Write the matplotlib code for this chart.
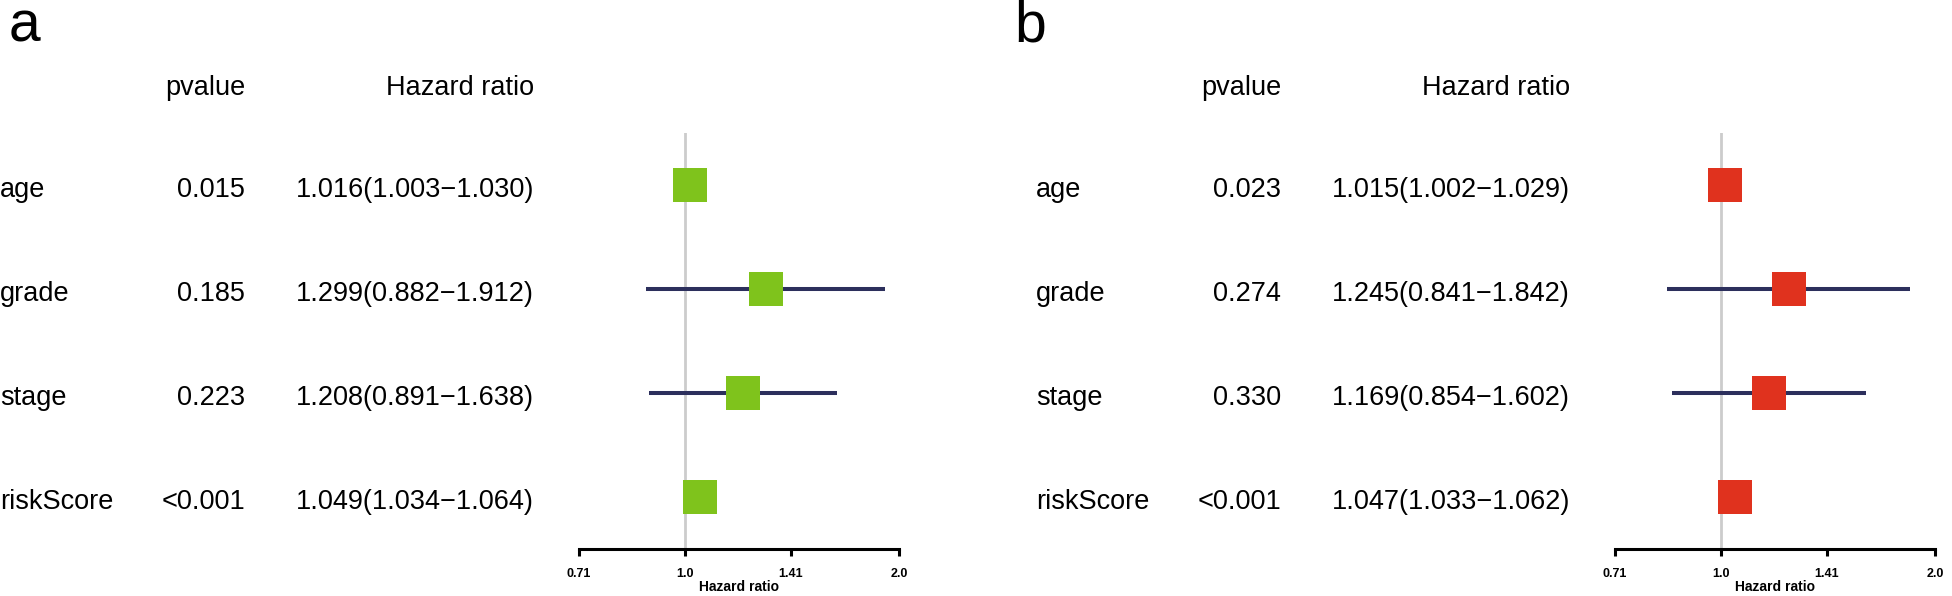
"""Two multivariate Cox forest plots (a, b) side by side."""
import matplotlib
matplotlib.use("Agg")
import matplotlib.pyplot as plt
from matplotlib.transforms import blended_transform_factory

plt.rcParams["font.family"] = ["Liberation Sans", "DejaVu Sans"]

W, H = 1952, 596

# ---- data -------------------------------------------------------------
names = ["age", "grade", "stage", "riskScore"]

pval_a = ["0.015", "0.185", "0.223", "<0.001"]
hr_a = [1.016, 1.299, 1.208, 1.049]
low_a = [1.003, 0.882, 0.891, 1.034]
high_a = [1.030, 1.912, 1.638, 1.064]

pval_b = ["0.023", "0.274", "0.330", "<0.001"]
hr_b = [1.015, 1.245, 1.169, 1.047]
low_b = [1.002, 0.841, 0.854, 1.033]
high_b = [1.029, 1.842, 1.602, 1.062]

xticks = [0.71, 1.0, 1.41, 2.0]
xticklabels = ["0.71", "1.0", "1.41", "2.0"]

GREEN = "#7fc31c"
RED = "#e0321e"
NAVY = "#2c2f5c"
GREY = "#cccccc"

fig = plt.figure(figsize=(W / 100, H / 100), dpi=100)


def fx(px):
    return px / W


def forest(x0, letter, letter_x, pvals, hr, low, high, color):
    # forest area in pixels: x from x0+579 to x0+899, y from 133 to 549 (top-down)
    left, right, top, bottom = x0 + 579, x0 + 899, 133, 549
    ax = fig.add_axes([fx(left), (H - bottom) / H, fx(right - left), (bottom - top) / H])
    ax.set_xscale("log", base=2)
    ax.set_xlim(xticks[0], xticks[-1])
    ax.set_ylim(0.5, 4.5)
    rows = list(range(len(names), 0, -1))

    ax.axvline(1.0, color=GREY, lw=2.0, zorder=1)
    ax.hlines(rows, low, high, color=NAVY, lw=2.9, zorder=2)
    ax.plot(hr, rows, "s", color=color, ms=24.5, mew=0, zorder=3)

    for s in ["left", "right", "top"]:
        ax.spines[s].set_visible(False)
    ax.spines["bottom"].set_linewidth(2.2)
    ax.set_yticks([])
    ax.set_xticks(xticks)
    ax.set_xticklabels(xticklabels, fontweight="bold")
    ax.xaxis.set_minor_locator(matplotlib.ticker.NullLocator())
    ax.tick_params(axis="x", width=2.2, length=5, labelsize=9, pad=8.5)
    ax.set_xlabel("Hazard ratio", fontsize=10, fontweight="bold", labelpad=0)

    # text columns: x in figure pixels, y in row data units
    tr = blended_transform_factory(fig.transFigure, ax.transData)
    fs = 19.5
    head_y = 4.87
    ax.text(fx(x0 + 245), head_y, "pvalue", transform=tr, ha="right",
            va="baseline", fontsize=fs)
    ax.text(fx(x0 + 534), head_y, "Hazard ratio", transform=tr, ha="right",
            va="baseline", fontsize=fs)
    for r, n, p, h, lo, hi in zip(rows, names, pvals, hr, low, high):
        y = r - 0.115
        ax.text(fx(x0), y, n, transform=tr, ha="left", va="baseline", fontsize=fs)
        ax.text(fx(x0 + 245), y, p, transform=tr, ha="right", va="baseline",
                fontsize=fs)
        ax.text(fx(x0 + 534), y, f"{h:.3f}({lo:.3f}\u2212{hi:.3f})", transform=tr,
                ha="right", va="baseline", fontsize=fs)

    fig.text(fx(letter_x), (H - 42) / H, letter, ha="left", va="baseline",
             fontsize=41)
    return ax


forest(0, "a", 9, pval_a, hr_a, low_a, high_a, GREEN)
forest(1036, "b", 1014, pval_b, hr_b, low_b, high_b, RED)

fig.savefig("out.png", dpi=100, facecolor="white")
